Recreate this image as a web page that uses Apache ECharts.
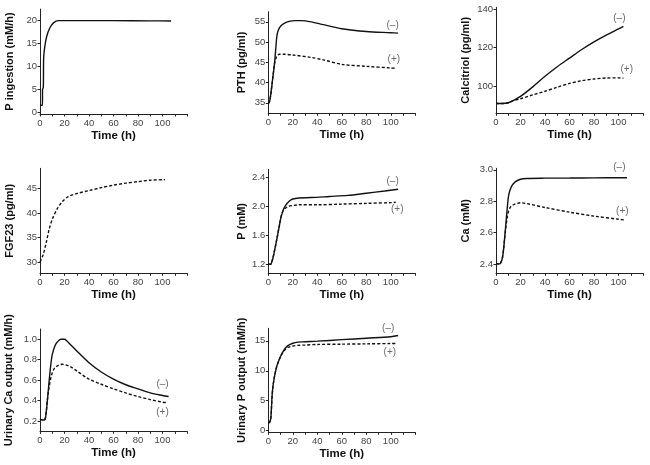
<!DOCTYPE html>
<html>
<head>
<meta charset="utf-8">
<script src="https://cdn.jsdelivr.net/npm/echarts@6/dist/echarts.min.js"></script>
<style>html,body{margin:0;padding:0;background:#fff}#c{width:650px;height:465px}</style>
</head>
<body>
<div id="c"></div>
<script>
// ---- data (time in h) ----
const pIngT = [0, 2, 2.05, 2.7, 3, 4, 5.5, 8, 11, 15, 30, 60, 90, 107];
const pIngV = [1.6, 1.6, 5, 5.5, 12, 14.5, 16.6, 18.4, 19.5, 20, 20, 20, 19.95, 19.9];

const pthMinusT = [0, 1, 2, 3, 4, 5, 6, 7, 8, 10, 13, 17, 22, 27, 35, 45, 60, 80, 100, 106];
const pthMinusV = [34.8, 35.3, 37, 39.5, 42, 44.5, 48, 51.5, 52.8, 53.9, 54.6, 55.1, 55.3, 55.3, 55, 54.3, 53.3, 52.6, 52.3, 52.2];
const pthPlusT = [0, 1, 2, 3, 4, 5, 6, 7, 9, 12, 20, 35, 45, 60, 80, 100, 104];
const pthPlusV = [34.8, 35.3, 37, 39.5, 42, 44.5, 45.8, 46.5, 47, 47, 46.8, 46.2, 45.6, 44.5, 44, 43.6, 43.5];

const calMinusT = [0, 5, 10, 14, 20, 30, 40, 50, 60, 70, 80, 90, 100, 104];
const calMinusV = [90.8, 90.8, 91.2, 92.3, 94.5, 99.5, 105, 110, 114.5, 119, 123, 126.5, 129.7, 131];
const calPlusT = [0, 5, 10, 14, 20, 30, 40, 50, 60, 70, 80, 90, 100, 104];
const calPlusV = [90.8, 90.8, 91.2, 92.3, 93.3, 95.3, 97.2, 99.3, 101.3, 102.7, 103.6, 104.1, 104.2, 104];

const fgfT = [0, 2.5, 5, 7.5, 10, 14, 18, 23, 30, 40, 50, 60, 70, 80, 90, 102];
const fgfV = [30.1, 31.5, 33.9, 36.7, 38.7, 40.8, 42.2, 43.3, 43.9, 44.5, 45.1, 45.6, 46, 46.3, 46.6, 46.7];

const pMinusT = [0, 2, 3, 4, 5, 6, 7, 8, 9, 10, 12, 14, 17, 20, 25, 35, 50, 65, 80, 95, 106];
const pMinusV = [1.2, 1.2, 1.24, 1.3, 1.38, 1.46, 1.55, 1.64, 1.73, 1.82, 1.94, 2.01, 2.07, 2.1, 2.115, 2.12, 2.135, 2.15, 2.18, 2.21, 2.235];
const pPlusT = [0, 2, 3, 4, 5, 6, 7, 8, 9, 10, 11, 13, 16, 20, 25, 40, 60, 80, 100, 104];
const pPlusV = [1.2, 1.2, 1.24, 1.3, 1.38, 1.46, 1.55, 1.64, 1.73, 1.82, 1.9, 1.96, 1.995, 2.01, 2.02, 2.02, 2.03, 2.04, 2.05, 2.055];

const caMinusT = [0, 3, 4, 5, 6, 7, 8, 9, 10, 11, 13, 16, 20, 25, 40, 60, 80, 100, 107];
const caMinusV = [2.4, 2.4, 2.41, 2.43, 2.48, 2.56, 2.65, 2.74, 2.82, 2.86, 2.9, 2.925, 2.94, 2.945, 2.947, 2.948, 2.949, 2.95, 2.95];
const caPlusT = [0, 3, 4, 5, 6, 7, 8, 9, 10, 12, 15, 20, 25, 40, 60, 80, 100, 105];
const caPlusV = [2.4, 2.4, 2.41, 2.43, 2.48, 2.56, 2.63, 2.69, 2.73, 2.765, 2.78, 2.79, 2.785, 2.76, 2.73, 2.705, 2.685, 2.68];

const uCaMinusT = [0, 2, 4, 5, 6, 7, 8, 9, 10, 12, 14, 17, 20, 23, 30, 40, 50, 60, 70, 80, 90, 100, 105];
const uCaMinusV = [0.22, 0.21, 0.215, 0.28, 0.4, 0.53, 0.66, 0.77, 0.85, 0.93, 0.97, 1.0, 1.0, 0.97, 0.885, 0.77, 0.68, 0.61, 0.555, 0.515, 0.475, 0.45, 0.44];
const uCaPlusT = [0, 2, 4, 5, 6, 7, 8, 9, 10, 12, 15, 18, 21, 25, 30, 40, 50, 60, 70, 80, 90, 100, 104];
const uCaPlusV = [0.22, 0.21, 0.215, 0.28, 0.4, 0.5, 0.57, 0.63, 0.67, 0.72, 0.745, 0.755, 0.75, 0.73, 0.69, 0.61, 0.56, 0.515, 0.475, 0.44, 0.41, 0.385, 0.38];

const uPMinusT = [0, 1, 2, 2.5, 3, 3.5, 4, 5, 6, 7, 8, 10, 12, 14, 16, 20, 24, 30, 40, 60, 80, 100, 106];
const uPMinusV = [1.3, 1.4, 2, 3.5, 5.5, 6.8, 7.7, 9, 10, 10.8, 11.4, 12.4, 13.2, 13.8, 14.2, 14.6, 14.8, 14.85, 14.95, 15.2, 15.45, 15.7, 15.9];
const uPPlusT = [0, 1, 2, 2.5, 3, 3.5, 4, 5, 6, 7, 8, 10, 12, 14, 16, 20, 24, 30, 40, 60, 80, 100, 104];
const uPPlusV = [1.3, 1.4, 2, 3.5, 5.5, 6.8, 7.7, 9, 10, 10.8, 11.4, 12.4, 13.1, 13.6, 13.9, 14.15, 14.25, 14.3, 14.4, 14.45, 14.5, 14.55, 14.55];

// axis titles and tick labels
const yTitles = ['P ingestion (mM/h)', 'PTH (pg/ml)', 'Calcitriol (pg/ml)', 'FGF23 (pg/ml)', 'P (mM)', 'Ca (mM)', 'Urinary Ca output (mM/h)', 'Urinary P output (mM/h)'];
const xTitle = 'Time (h)';
const yTicks = [[0, 5, 10, 15, 20], [35, 40, 45, 50, 55], [100, 120, 140], [30, 35, 40, 45], [1.2, 1.6, 2.0, 2.4], [2.4, 2.6, 2.8, 3.0], [0.2, 0.4, 0.6, 0.8, 1.0], [0, 5, 10, 15]];
const yDecimals = [0, 0, 0, 0, 1, 1, 1, 0];
const yRanges = [[-0.3, 22.5], [32.4, 57.5], [85.7, 141], [27.8, 49], [1.075, 2.51], [2.34, 3.01], [0.1, 1.1], [-0.27, 17.1]];
const xTickLabels = [0, 20, 40, 60, 80, 100];

// (−)/(+) annotations: [panel, t, value, text]
const notes = [
  [1, 101.5, 54.2, '(–)'], [1, 102.5, 45.7, '(+)'],
  [2, 100.7, 135.3, '(–)'], [2, 106.7, 108.9, '(+)'],
  [4, 101.5, 2.345, '(–)'], [4, 105.3, 1.953, '(+)'],
  [5, 100.7, 3.017, '(–)'], [5, 103.1, 2.734, '(+)'],
  [6, 100, 0.559, '(–)'], [6, 100, 0.288, '(+)'],
  [7, 97.9, 17.1, '(–)'], [7, 99.2, 13.05, '(+)']
];

// ---- layout ----
const colLeft = [40, 268.3, 496];
const gridBoxes = [
  [0, 9.1, 114], [1, 11.7, 113.3], [2, 7.3, 113.3],
  [0, 168.3, 273.3], [1, 169.3, 273.3], [2, 168.3, 273.3],
  [0, 329, 431.3], [1, 328.3, 432.3]
];
const nameGaps = [25, 21, 25, 25, 21, 25, 26, 21];
const font = "'Liberation Sans', Arial, sans-serif";

const zip = (t, v) => t.map((x, i) => [x, v[i]]);

const grids = [], xAxes = [], yAxes = [], series = [];
gridBoxes.forEach((g, i) => {
  grids.push({left: colLeft[g[0]], top: g[1], width: 147, height: g[2] - g[1], containLabel: false});
  xAxes.push({
    type: 'value', gridIndex: i, min: 0, max: 120, interval: 10,
    name: xTitle, nameLocation: 'middle', nameGap: 16,
    nameTextStyle: {fontFamily: font, fontWeight: 'bold', fontSize: 11.5, color: '#111'},
    axisLine: {onZero: false, lineStyle: {color: '#222', width: 1}},
    axisTick: {show: true, length: 2.5, lineStyle: {color: '#222'}},
    axisLabel: {fontFamily: font, fontSize: 9.5, color: '#444', margin: 4,
      formatter: v => (xTickLabels.indexOf(v) >= 0 ? String(v) : '')},
    splitLine: {show: false}
  });
  yAxes.push({
    type: 'value', gridIndex: i, min: yRanges[i][0], max: yRanges[i][1],
    name: yTitles[i], nameLocation: 'middle', nameGap: nameGaps[i],
    nameTextStyle: {fontFamily: font, fontWeight: 'bold', fontSize: 11, color: '#111'},
    axisLine: {onZero: false, lineStyle: {color: '#222', width: 1}},
    axisTick: {show: true, length: 2.5, customValues: yTicks[i], lineStyle: {color: '#222'}},
    axisLabel: {fontFamily: font, fontSize: 9.5, color: '#444', margin: 3, customValues: yTicks[i],
      formatter: v => Number(v).toFixed(yDecimals[i])},
    splitLine: {show: false}
  });
});

const solid = {color: '#111', width: 1.4, type: 'solid'};
const dashed = {color: '#111', width: 1.4, type: [3, 2]};
function addLine(idx, t, v, style) {
  series.push({
    type: 'line', xAxisIndex: idx, yAxisIndex: idx, data: zip(t, v),
    showSymbol: false, smooth: 0.3, lineStyle: style, silent: true
  });
}
addLine(0, pIngT, pIngV, solid);
addLine(1, pthMinusT, pthMinusV, solid);
addLine(1, pthPlusT, pthPlusV, dashed);
addLine(2, calMinusT, calMinusV, solid);
addLine(2, calPlusT, calPlusV, dashed);
addLine(3, fgfT, fgfV, dashed);
addLine(4, pMinusT, pMinusV, solid);
addLine(4, pPlusT, pPlusV, dashed);
addLine(5, caMinusT, caMinusV, solid);
addLine(5, caPlusT, caPlusV, dashed);
addLine(6, uCaMinusT, uCaMinusV, solid);
addLine(6, uCaPlusT, uCaPlusV, dashed);
addLine(7, uPMinusT, uPMinusV, solid);
addLine(7, uPPlusT, uPPlusV, dashed);

notes.forEach(n => {
  series.push({
    type: 'scatter', xAxisIndex: n[0], yAxisIndex: n[0], symbolSize: 0, clip: false, silent: true,
    data: [[n[1], n[2]]],
    label: {show: true, position: 'inside', formatter: n[3], fontFamily: font, fontSize: 10, color: '#444'}
  });
});

const chart = echarts.init(document.getElementById('c'), null, {renderer: 'canvas'});
chart.setOption({animation: false, backgroundColor: '#fff', grid: grids, xAxis: xAxes, yAxis: yAxes, series: series});
</script>
</body>
</html>
